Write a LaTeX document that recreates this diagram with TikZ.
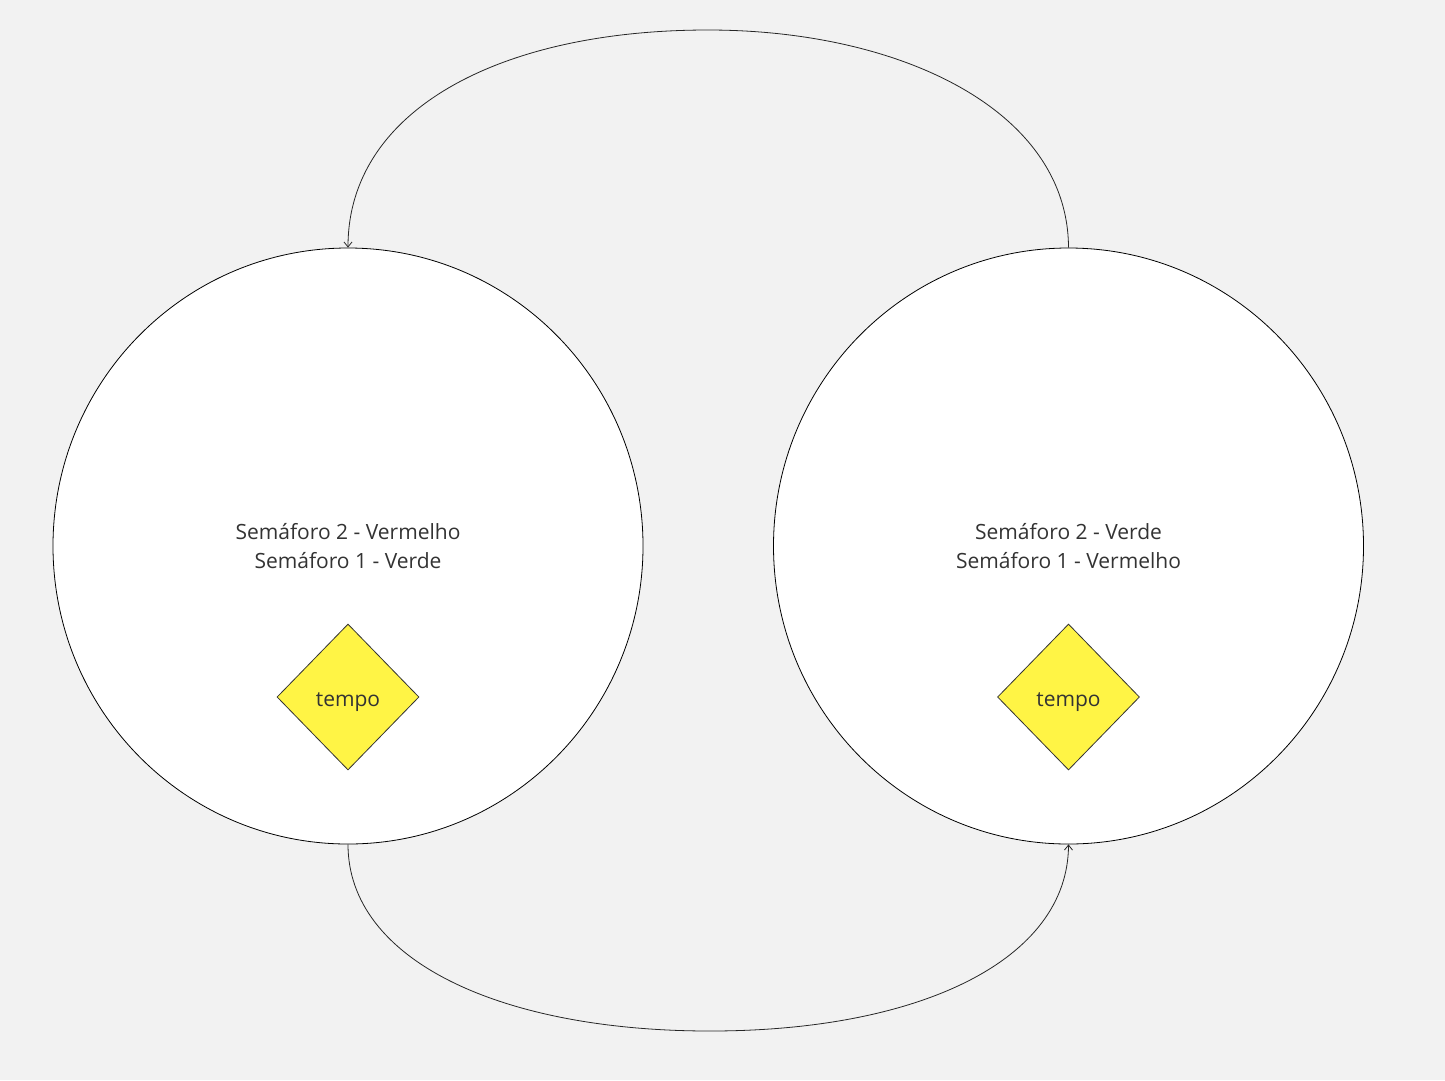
\documentclass[tikz,border=0pt]{standalone}
\usepackage{fontspec}
\setmainfont{Open Sans}
\usetikzlibrary{shapes.geometric,arrows.meta}
\definecolor{bg}{RGB}{242,242,242}
\definecolor{ink}{RGB}{51,51,51}
\definecolor{tyellow}{RGB}{255,244,69}
\tikzset{
  state/.style={ellipse, draw=black, line width=0.8pt, fill=white, minimum width=590pt, minimum height=596pt, inner sep=0pt, align=center, text=ink, font=\fontsize{21pt}{29pt}\selectfont},
  timer/.style={diamond, draw=black!80, line width=0.8pt, fill=tyellow, minimum width=142pt, minimum height=146pt, inner sep=0pt, text=ink, text height=18pt, text depth=0pt, font=\fontsize{21pt}{25pt}\selectfont},
  link/.style={draw=black!85, line width=0.8pt, -{Straight Barb[length=5pt,width=8pt]}}
}
\begin{document}
\begin{tikzpicture}[x=1pt,y=-1pt]
\fill[bg] (0,0) rectangle (1445,1080);
\useasboundingbox (0,0) rectangle (1445,1080);
\node[state] (s1) at (348,546) {Semáforo 2 - Vermelho\\Semáforo 1 - Verde};
\node[state] (s2) at (1068.5,546) {Semáforo 2 - Verde\\Semáforo 1 - Vermelho};
\node[timer] (t1) at (348,697) {tempo};
\node[timer] (t2) at (1068.5,697) {tempo};
\draw[link] (s2.north) .. controls (1068,110) and (900,30) .. (708,30) .. controls (500,30) and (348,110) .. (s1.north);
\draw[link] (s1.south) .. controls (348,960) and (500,1031) .. (710,1031) .. controls (920,1031) and (1068,960) .. (s2.south);
\end{tikzpicture}
\end{document}
